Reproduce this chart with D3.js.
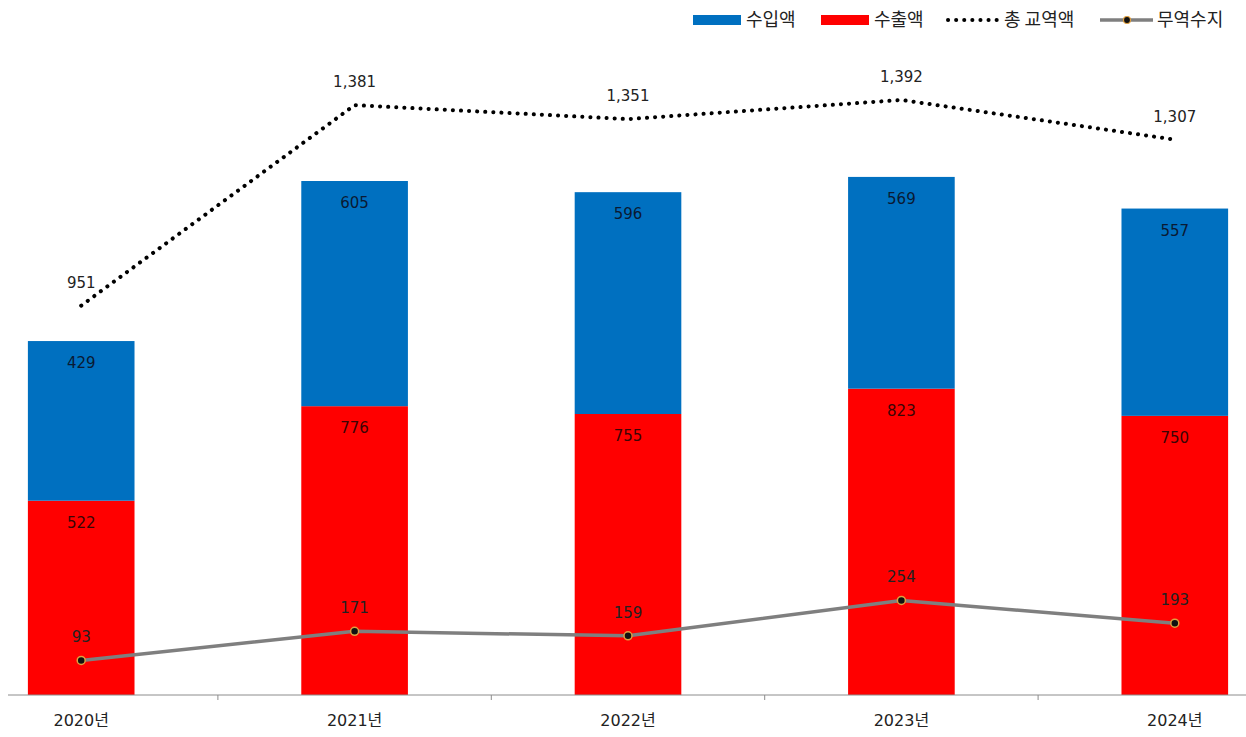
<!DOCTYPE html>
<html>
<head>
<meta charset="utf-8">
<script src="https://cdn.jsdelivr.net/npm/d3@7"></script>
<style>
  body { margin: 0; background: #fff; }
  svg { display: block; font-family: "DejaVu Sans", "Noto Sans CJK KR", sans-serif; }
</style>
</head>
<body>
<svg width="1246" height="737"></svg>
<script>
var years = ["2020년", "2021년", "2022년", "2023년", "2024년"];
var imports = [429, 605, 596, 569, 557];   // 수입액
var exports = [522, 776, 755, 823, 750];   // 수출액
var totals = [951, 1381, 1351, 1392, 1307]; // 총 교역액
var balance = [93, 171, 159, 254, 193];    // 무역수지

var svgWidth = 1246, svgHeight = 737;
var svg = d3.select("svg");

var data = years.map(function(y, i) {
  return { year: y, imp: imports[i], exp: exports[i], total: totals[i], bal: balance[i] };
});

// the picture is cropped from a wider chart, so the band range runs past the edges
var x = d3.scaleBand().domain(years).range([-55.5, 1311.5]).paddingInner(0.61).paddingOuter(0.305);
var xc = function(d) { return x(d.year) + x.bandwidth() / 2; };

var y = d3.scaleLinear().domain([0, 1600]).range([695, 99.5]);
// secondary axis for 총 교역액
var y2 = d3.scaleLinear().domain([0, 1600]).range([749, 3]);

// bars
var g = svg.append("g");
g.selectAll(".exp").data(data).enter().append("rect")
  .attr("x", function(d) { return x(d.year); })
  .attr("width", x.bandwidth())
  .attr("y", function(d) { return y(d.exp); })
  .attr("height", function(d) { return y(0) - y(d.exp); })
  .attr("fill", "#ff0000");

g.selectAll(".imp").data(data).enter().append("rect")
  .attr("x", function(d) { return x(d.year); })
  .attr("width", x.bandwidth())
  .attr("y", function(d) { return y(d.exp + d.imp); })
  .attr("height", function(d) { return y(d.exp) - y(d.exp + d.imp); })
  .attr("fill", "#0070c0");

// bar labels
g.selectAll(".impLbl").data(data).enter().append("text")
  .attr("x", xc)
  .attr("y", function(d) { return y(d.exp + d.imp) + 27; })
  .attr("text-anchor", "middle")
  .attr("font-size", 15)
  .attr("fill", "#0a1a33")
  .text(function(d) { return d3.format(",")(d.imp); });

g.selectAll(".expLbl").data(data).enter().append("text")
  .attr("x", xc)
  .attr("y", function(d) { return y(d.exp) + 27; })
  .attr("text-anchor", "middle")
  .attr("font-size", 15)
  .attr("fill", "#3a0505")
  .text(function(d) { return d3.format(",")(d.exp); });

// x axis
var axisG = svg.append("g").attr("transform", "translate(0,695)");
axisG.append("line")
  .attr("x1", 8).attr("x2", svgWidth)
  .attr("stroke", "#8c8c8c").attr("stroke-width", 1);
var bounds = years.slice(1).map(function(yr) { return x(yr) - x.step() * x.paddingInner() / 2; });
axisG.selectAll(".tk").data(bounds).enter().append("line")
  .attr("x1", function(d) { return d; }).attr("x2", function(d) { return d; })
  .attr("y1", 0).attr("y2", 5)
  .attr("stroke", "#8c8c8c");

var xAxis = d3.axisBottom(x).tickSize(0).tickPadding(20);
var xa = svg.append("g").attr("transform", "translate(0,695)").call(xAxis);
xa.select(".domain").remove();
xa.selectAll("text")
  .attr("font-size", 16)
  .attr("fill", "#222")
  .attr("font-family", "\"DejaVu Sans\", \"Noto Sans CJK KR\", sans-serif");

// total line (dotted)
var lineTotal = d3.line().x(xc).y(function(d) { return y2(d.total); });
svg.append("path")
  .datum(data)
  .attr("fill", "none")
  .attr("stroke", "#000")
  .attr("stroke-width", 4)
  .attr("stroke-linecap", "round")
  .attr("stroke-dasharray", "0.1 8")
  .attr("d", lineTotal);

svg.selectAll(".totLbl").data(data).enter().append("text")
  .attr("x", xc)
  .attr("y", function(d) { return y2(d.total) - 18; })
  .attr("text-anchor", "middle")
  .attr("font-size", 15)
  .attr("fill", "#222")
  .text(function(d) { return d3.format(",")(d.total); });

// balance line
var lineBal = d3.line().x(xc).y(function(d) { return y(d.bal); });
svg.append("path")
  .datum(data)
  .attr("fill", "none")
  .attr("stroke", "#7f7f7f")
  .attr("stroke-width", 3.5)
  .attr("stroke-linejoin", "round")
  .attr("d", lineBal);

svg.selectAll(".balDot").data(data).enter().append("circle")
  .attr("cx", xc)
  .attr("cy", function(d) { return y(d.bal); })
  .attr("r", 4)
  .attr("fill", "#111")
  .attr("stroke", "#e0a040")
  .attr("stroke-width", 1.5);

svg.selectAll(".balLbl").data(data).enter().append("text")
  .attr("x", xc)
  .attr("y", function(d) { return y(d.bal) - 18; })
  .attr("text-anchor", "middle")
  .attr("font-size", 15)
  .attr("fill", "#222")
  .text(function(d) { return d3.format(",")(d.bal); });

// legend
var lg = svg.append("g").attr("font-family", "\"Noto Sans CJK KR\", sans-serif").attr("font-size", 18).attr("fill", "#222");
lg.append("rect").attr("x", 693).attr("y", 15).attr("width", 48).attr("height", 10).attr("fill", "#0070c0");
lg.append("text").attr("x", 746).attr("y", 26).text("수입액");
lg.append("rect").attr("x", 821).attr("y", 15).attr("width", 48).attr("height", 10).attr("fill", "#ff0000");
lg.append("text").attr("x", 874).attr("y", 26).text("수출액");
lg.append("line").attr("x1", 948).attr("x2", 1000).attr("y1", 20).attr("y2", 20)
  .attr("stroke", "#000").attr("stroke-width", 4).attr("stroke-linecap", "round").attr("stroke-dasharray", "0.1 8");
lg.append("text").attr("x", 1004).attr("y", 26).text("총 교역액");
lg.append("line").attr("x1", 1100).attr("x2", 1153).attr("y1", 20).attr("y2", 20)
  .attr("stroke", "#7f7f7f").attr("stroke-width", 3.5);
lg.append("circle").attr("cx", 1127).attr("cy", 20).attr("r", 3.5)
  .attr("fill", "#111").attr("stroke", "#e0a040").attr("stroke-width", 1.2);
lg.append("text").attr("x", 1157).attr("y", 26).text("무역수지");
</script>
</body>
</html>
